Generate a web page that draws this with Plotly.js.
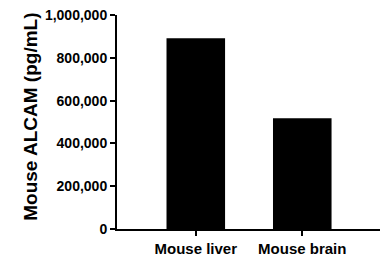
<!DOCTYPE html>
<html><head><meta charset="utf-8">
<script src="https://cdn.plot.ly/plotly-3.0.1.min.js"></script>
<style>html,body{margin:0;padding:0;background:#fff}#chart{width:385px;height:257px}</style>
</head><body><div id="chart"></div>
<script>
const categories = ["Mouse liver", "Mouse brain"];
const values = [891000, 517000];
const yTickVals = [0, 200000, 400000, 600000, 800000, 1000000];
const yTickText = ["0", "200,000", "400,000", "600,000", "800,000", "1,000,000"];
const yTitle = "Mouse ALCAM (pg/mL)";

const F = "Liberation Sans, Arial, sans-serif";
Plotly.newPlot("chart", [{
  type: "bar", x: categories, y: values,
  marker: {color: "#000", line: {color: "#000", width: 0}},
  width: 0.55
}], {
  width: 385, height: 257,
  margin: {l: 117, r: 5, t: 15, b: 28},
  paper_bgcolor: "#fff", plot_bgcolor: "#fff",
  showlegend: false,
  xaxis: {
    range: [-0.74, 1.73], showline: true, linecolor: "#000", linewidth: 2,
    ticks: "outside", ticklen: 5, tickwidth: 2, tickcolor: "#000",
    showgrid: false, zeroline: false,
    tickfont: {family: F, size: 15, color: "#000", weight: "bold"}
  },
  yaxis: {
    range: [0, 1000000], showline: true, linecolor: "#000", linewidth: 2,
    ticks: "outside", ticklen: 5, tickwidth: 2, tickcolor: "#000",
    tickvals: yTickVals, ticktext: yTickText,
    showgrid: false, zeroline: false,
    tickfont: {family: F, size: 14, color: "#000", weight: "bold"}
  },
  annotations: [{
    text: yTitle, textangle: -90, showarrow: false,
    xref: "paper", yref: "paper", x: -0.332, y: 0.523,
    xanchor: "center", yanchor: "middle",
    font: {family: F, size: 19, color: "#000", weight: "bold"}
  }]
}, {displayModeBar: false, staticPlot: true});
</script>
</body></html>
